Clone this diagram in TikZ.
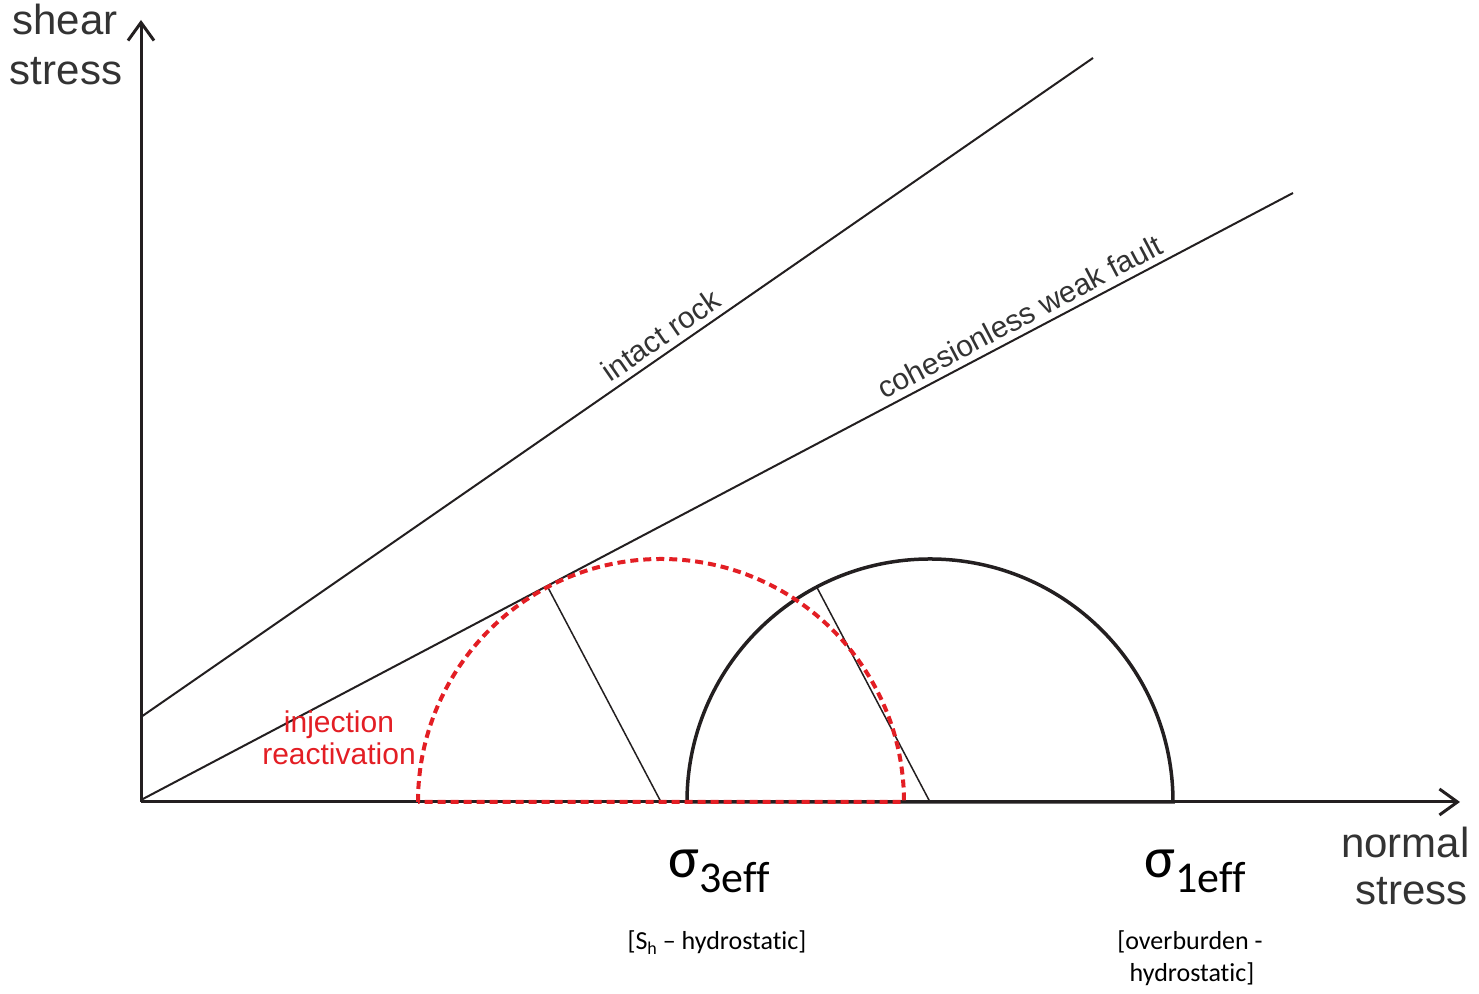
\documentclass[tikz,border=0pt]{standalone}
\usepackage{fontspec}
\setmainfont{Liberation Sans}
\newfontfamily\calib[Ligatures=NoCommon]{Carlito}
\usetikzlibrary{arrows.meta,calc}
\definecolor{ink}{HTML}{231F20}
\definecolor{txt}{HTML}{333333}
\definecolor{redd}{HTML}{E31E24}
\begin{document}
\begin{tikzpicture}[x=0.5pt,y=0.5pt,
  axis/.style={draw=ink,line width=1.5pt,-{Straight Barb[length=9pt,width=13pt,line width=1.5pt]}},
  envelope/.style={draw=ink,line width=1pt},
  radline/.style={draw=ink,line width=0.75pt},
  mohr/.style={draw=ink,line width=1.75pt},
  mohrred/.style={draw=redd,line width=2pt,dash pattern=on 4pt off 2.5pt},
  axlabel/.style={text=txt,font=\fontsize{21}{24}\selectfont,inner sep=0pt},
  linelabel/.style={text=txt,font=\fontsize{15}{17}\selectfont},
  redlabel/.style={text=redd,font=\fontsize{15}{17}\selectfont,inner sep=0pt},
  siglabel/.style={font=\calib,inner sep=0pt},
  brlabel/.style={font=\calib\fontsize{13}{15}\selectfont,inner sep=0pt}]
\useasboundingbox (0,0) rectangle (1479,994);
% coordinates
\coordinate (O) at (141,192);
\coordinate (ytop) at (141,974);
\coordinate (xend) at (1460,192);
\coordinate (ir0) at (141,277);
\coordinate (ir1) at (1093,936);
\coordinate (wf0) at (141,194);
\coordinate (wf1) at (1293,801);
\coordinate (rc) at (661,192);
\coordinate (bc) at (930,192);
\coordinate (rt) at ($(rc)+(117.79:243)$);
\coordinate (bt) at ($(bc)+(117.79:243)$);
% axes
\draw[axis] (O) -- (ytop);
\draw[axis] (O) -- (xend);
% envelopes
\draw[envelope] (ir0) -- node[pos=0.557,above,sloped,linelabel,inner sep=3pt]{intact rock} (ir1);
\draw[envelope] (wf0) -- node[pos=0.77,above,sloped,linelabel,inner sep=3pt]{cohesionless weak fault} (wf1);
% black Mohr circle
\draw[mohr] (687,192) arc[start angle=180,end angle=0,radius=243] -- cycle;
\draw[radline] (bt) -- (bc);
% red Mohr circle
\draw[radline] (rt) -- (rc);
\draw[mohrred] (418,192) arc[start angle=180,end angle=0,radius=243] -- cycle;
% labels
\node[axlabel,anchor=base] (sh1) at (65,959) {shear};
\node[axlabel,anchor=base] (sh2) at (66,909) {stress};
\node[axlabel,anchor=base east] (ns1) at (1470,136) {normal};
\node[axlabel,anchor=base east] (ns2) at (1468,89) {stress};
\node[redlabel,anchor=base] (inj1) at (339,261) {injection};
\node[redlabel,anchor=base] (inj2) at (339,229) {reactivation};
\node[siglabel,anchor=base west] (s3) at (668,116) {{\fontsize{29}{30}\selectfont σ}\raisebox{-7.5pt}{\fontsize{22}{24}\selectfont 3eff}};
\node[siglabel,anchor=base west] (s1) at (1144,116) {{\fontsize{29}{30}\selectfont σ}\raisebox{-7.5pt}{\fontsize{22}{24}\selectfont 1eff}};
\node[brlabel,anchor=base] (b3) at (717,44) {[S\raisebox{-2.5pt}{\fontsize{9}{10}\selectfont h} – hydrostatic]};
\node[brlabel,anchor=base] (b1a) at (1190,44) {[overburden -};
\node[brlabel,anchor=base] (b1b) at (1192,12) {hydrostatic]};
\end{tikzpicture}
\end{document}
